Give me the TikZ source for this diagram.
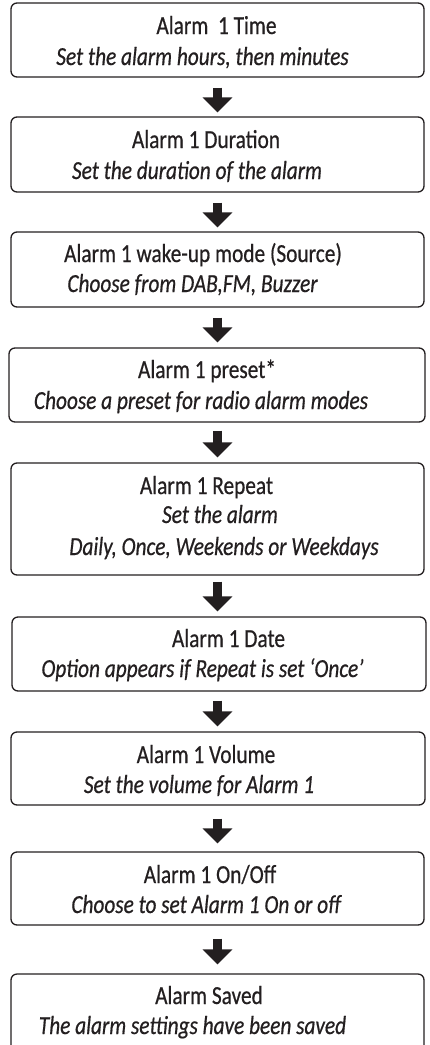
\documentclass[tikz,border=0pt]{standalone}
\usepackage{fontspec}
\setmainfont{Carlito}[FakeStretch=0.82,FakeBold=0.6]
\usetikzlibrary{arrows.meta}
\definecolor{ink}{HTML}{231F20}
\begin{document}
\begin{tikzpicture}[x=1pt,y=-1pt,
  box/.style={draw=ink, line width=1.3pt, rounded corners=6pt, inner sep=0pt},
  ttl/.style={anchor=base, inner sep=0pt, text=ink, font=\fontsize{26}{30}\selectfont},
  sub/.style={anchor=base, inner sep=0pt, text=ink, font=\fontsize{26}{30}\selectfont\itshape},
  flow/.style={draw=ink, line width=9pt, line cap=butt, -{Triangle[width=29pt,length=15pt]}}]
\useasboundingbox (0,0) rectangle (429,1045);
% boxes
\node[box, minimum width=413pt, minimum height=74pt]  (b1) at (217.5,40) {};
\node[box, minimum width=413pt, minimum height=75pt]  (b2) at (217.5,154.5) {};
\node[box, minimum width=413pt, minimum height=75pt]  (b3) at (217.5,269.5) {};
\node[box, minimum width=416pt, minimum height=74pt]  (b4) at (217,385) {};
\node[box, minimum width=413pt, minimum height=112pt] (b5) at (217.5,519) {};
\node[box, minimum width=414pt, minimum height=74pt]  (b6) at (219,654) {};
\node[box, minimum width=414pt, minimum height=73pt]  (b7) at (218,768.5) {};
\node[box, minimum width=413pt, minimum height=73pt]  (b8) at (217.5,888.5) {};
\node[box, minimum width=413pt, minimum height=86pt]  (b9) at (217.5,1017) {};
% texts
\node[ttl] (t1) at (216.5,34) {Alarm\ \ 1 Time};
\node[sub] (s1) at (202.5,65) {Set the alarm hours, then minutes};
\node[ttl] (t2) at (206,148) {Alarm 1 Duration};
\node[sub] (s2) at (197,179) {Set the duration of the alarm};
\node[ttl] (t3) at (203,262) {Alarm 1 wake-up mode (Source)};
\node[sub] (s3) at (192.5,292) {Choose from DAB,FM, Buzzer};
\node[ttl] (t4) at (207,378) {Alarm 1 preset*};
\node[sub] (s4) at (201,409) {Choose a preset for radio alarm modes};
\node[ttl] (t5) at (206.5,494) {Alarm 1 Repeat};
\node[sub] (s5) at (220,523) {Set the alarm};
\node[sub] (u5) at (224,555) {Daily, Once, Weekends or Weekdays};
\node[ttl] (t6) at (228.5,647) {Alarm 1 Date};
\node[sub] (s6) at (202.5,677) {Option appears if Repeat is set ‘Once’};
\node[ttl] (t7) at (206,763) {Alarm 1 Volume};
\node[sub] (s7) at (199,793) {Set the volume for Alarm 1};
\node[ttl] (t8) at (210,883) {Alarm 1 On/Off};
\node[sub] (s8) at (206,913) {Choose to set Alarm 1 On or off};
\node[ttl] (t9) at (209,1004) {Alarm Saved};
\node[sub] (s9) at (192.5,1034) {The alarm settings have been saved};
% arrows
\draw[flow, shorten <=10pt, shorten >=4pt] (b1.south) -- (b1.south |- b2.north);
\draw[flow, shorten <=10pt, shorten >=4pt] (b2.south) -- (b2.south |- b3.north);
\draw[flow, shorten <=10pt, shorten >=5pt] (b3.south) -- (b3.south |- b4.north);
\draw[flow, shorten <=8pt, shorten >=5pt]  (b3.south |- b4.south) -- (b3.south |- b5.north);
\draw[flow, shorten <=6pt, shorten >=5pt]  (b5.south) -- (b5.south |- b6.north);
\draw[flow, shorten <=9pt, shorten >=5pt]  (b5.south |- b6.south) -- (b5.south |- b7.north);
\draw[flow, shorten <=13pt, shorten >=8pt] (b5.south |- b7.south) -- (b5.south |- b8.north);
\draw[flow, shorten <=13pt, shorten >=9pt] (b8.south) -- (b8.south |- b9.north);
\end{tikzpicture}
\end{document}
